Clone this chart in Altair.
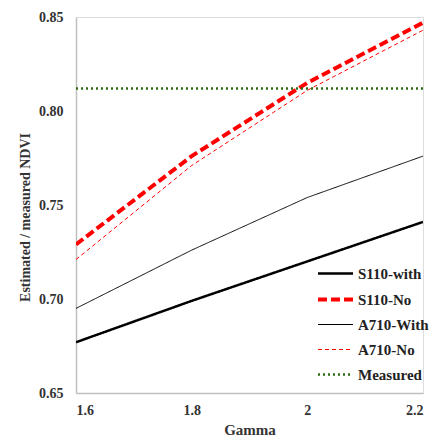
import altair as alt
import pandas as pd

gamma = [1.6, 1.8, 2.0, 2.2]
s110_with = [0.677, 0.699, 0.720, 0.741]
s110_no = [0.729, 0.776, 0.815, 0.847]
a710_with = [0.695, 0.726, 0.754, 0.776]
a710_no = [0.721, 0.771, 0.811, 0.843]
measured = [0.812, 0.812, 0.812, 0.812]

series = ["S110-with", "S110-No", "A710-With", "A710-No", "Measured"]
values = [s110_with, s110_no, a710_with, a710_no, measured]
colors = ["#000000", "#ff0000", "#000000", "#ff0000", "#2e6b12"]
dashes = [[1, 0], [9, 4], [1, 0], [4, 3], [2, 3]]
widths = [2.5, 4, 1, 1, 2.5]

rows = []
for name, vals, w in zip(series, values, widths):
    for g, v in zip(gamma, vals):
        rows.append({"Gamma": g, "NDVI": v, "Series": name, "w": w})
df = pd.DataFrame(rows)

font = "Times New Roman, Liberation Serif, serif"
width_expr = " : ".join(
    f"datum.value == '{s}' ? {w}" for s, w in zip(series, widths)
) + " : 1"
legend = alt.Legend(
    title=None, orient="none", legendX=252, legendY=249,
    symbolType="stroke", symbolSize=1225, labelFont=font, labelFontSize=15,
    labelFontWeight="bold", labelColor="#222222", rowPadding=9, labelOffset=15,
    symbolStrokeWidth=alt.ExprRef(expr=width_expr),
)

chart = alt.Chart(df).mark_line(clip=True).encode(
    x=alt.X("Gamma:Q", scale=alt.Scale(domain=[1.6, 2.2], nice=False),
            axis=alt.Axis(values=[1.6, 1.8, 2.0, 2.2], title="Gamma", grid=False,
                          ticks=False, labelFont=font, labelFontSize=14,
                          labelFontWeight="bold", labelColor="#333333",
                          titleFont=font, titleFontSize=15, titleFontWeight="bold",
                          titleColor="#333333", domainColor="#bfbfbf", domainWidth=1.5,
                          labelPadding=10, titlePadding=5,
                          labelExpr="datum.value == 2 ? '2' : format(datum.value, '.1f')")),
    y=alt.Y("NDVI:Q", scale=alt.Scale(domain=[0.65, 0.85], nice=False, zero=False),
            axis=alt.Axis(values=[0.65, 0.70, 0.75, 0.80, 0.85], format=".2f",
                          title="Estimated / measured NDVI", grid=False, ticks=False,
                          labelFont=font, labelFontSize=14, labelFontWeight="bold",
                          labelColor="#333333", titleFont=font, titleFontSize=14,
                          titleFontWeight="bold", titleColor="#333333",
                          domainColor="#bfbfbf", domainWidth=1.5, labelPadding=13,
                          titlePadding=6, titleY=200)),
    color=alt.Color("Series:N", scale=alt.Scale(domain=series, range=colors), legend=legend),
    strokeDash=alt.StrokeDash("Series:N", scale=alt.Scale(domain=series, range=dashes), legend=legend),
    strokeWidth=alt.StrokeWidth("w:Q", scale=None, legend=None),
).properties(
    width=347, height=376,
    autosize=alt.AutoSizeParams(type="none"),
    padding={"left": 68, "top": 9, "right": 10, "bottom": 46},
).configure_view(stroke=None).configure(background="white")

chart.save("out.html", embed_options={"renderer": "svg", "actions": False})
